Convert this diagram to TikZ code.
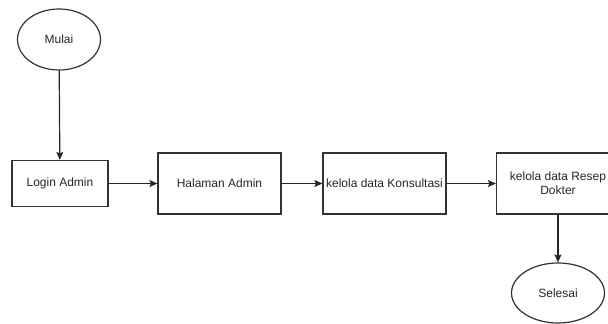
\documentclass[tikz,border=0pt]{standalone}
\usepackage{fontspec}
\setmainfont{Liberation Sans}
\usetikzlibrary{shapes.geometric,arrows.meta}
\begin{document}
\begin{tikzpicture}[x=1pt,y=-1pt,
  every node/.style={font=\fontsize{12}{14}\selectfont, text=black!85},
  procbox/.style={draw=black!80, line width=1.2pt, rectangle, inner sep=0pt, align=center},
  terminal/.style={draw=black!80, line width=1.2pt, ellipse, inner sep=0pt},
  flow/.style={draw=black!85, line width=1.2pt, -{Stealth[length=8pt,width=7pt,inset=1.5pt]}}]
  \useasboundingbox (0,0) rectangle (608,324);
  \begin{scope}
    \clip (0,0) rectangle (608,324);
    \node[terminal, minimum width=83pt, minimum height=61pt] (mulai) at (59,39.5) {Mulai};
    \node[procbox, minimum width=96pt, minimum height=46pt] (login) at (60,183.5) {Login Admin};
    \node[procbox, minimum width=123pt, minimum height=61pt] (halaman) at (219.5,183.5) {Halaman Admin};
    \node[procbox, minimum width=123pt, minimum height=61pt] (konsul) at (384.5,183.5) {kelola data Konsultasi};
    \node[procbox, minimum width=123pt, minimum height=61pt] (resep) at (558,183.5) {kelola data Resep\\Dokter};
    \node[terminal, minimum width=93pt, minimum height=60pt] (selesai) at (558,293) {Selesai};
    \draw[flow] (mulai) -- (login);
    \draw[flow] (login) -- (halaman);
    \draw[flow] (halaman) -- (konsul);
    \draw[flow] (konsul) -- (resep);
    \draw[flow] (resep) -- (selesai);
  \end{scope}
\end{tikzpicture}
\end{document}
